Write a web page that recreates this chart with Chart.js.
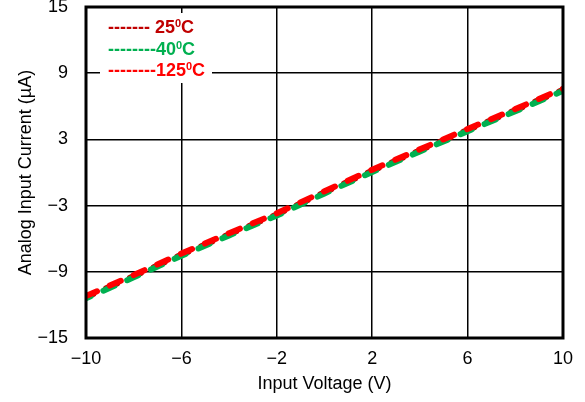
<!DOCTYPE html>
<html>
<head>
<meta charset="utf-8">
<script src="https://cdn.jsdelivr.net/npm/chart.js@4/dist/chart.umd.min.js"></script>
<style>
  html, body { margin: 0; padding: 0; background: #fff; }
  #wrap { width: 585px; height: 402px; position: relative; }
</style>
</head>
<body>
<div id="wrap"><canvas id="chart"></canvas></div>
<script>
// values
var voltages = [-10, -8, -6, -4, -2, 0, 2, 4, 6, 8, 10];
var current25 = [-11.3, -9.4, -7.45, -5.6, -3.8, -1.8, 0.15, 2.0, 3.85, 5.65, 7.5];
var currentMinus40 = [-11.4, -9.5, -7.55, -5.7, -3.9, -1.9, 0.05, 1.9, 3.75, 5.55, 7.4];
var current125 = [-11.2, -9.3, -7.35, -5.5, -3.7, -1.7, 0.25, 2.1, 3.95, 5.75, 7.6];
var xTicks = [-10, -6, -2, 2, 6, 10];
var yTicks = [-15, -9, -3, 3, 9, 15];
var legendNames = ['25', '40', '125'];
var legendDashes = ['------- ', '--------', '--------'];
var colors = ['#c00000', '#00b050', '#ff0000'];

var font = "'Liberation Sans', Arial, sans-serif";

function pts(ys){
    return voltages.map((v,i)=>({x:v, y:ys[i]}));
}
function minus(v){
    return v < 0 ? '\u2212' + Math.abs(v) : '' + v;
}

var frame = {
    id: 'frame',
    afterDraw(chart){
        var ctx = chart.ctx, a = chart.chartArea;
        ctx.save();
        // legend box
        ctx.fillStyle = '#fff';
        ctx.fillRect(100, 13, 112, 70);
        ctx.textBaseline = 'alphabetic';
        for (var i=0; i<legendNames.length; i++){
            var y = 33 + i*21.5;
            var x = 108;
            ctx.fillStyle = colors[i];
            ctx.font = 'bold 18px ' + font;
            ctx.fillText(legendDashes[i], x, y);
            x += ctx.measureText(legendDashes[i]).width;
            ctx.fillText(legendNames[i], x, y);
            x += ctx.measureText(legendNames[i]).width;
            ctx.font = 'bold 11px ' + font;
            ctx.fillText('0', x, y - 6);
            x += ctx.measureText('0').width;
            ctx.font = 'bold 18px ' + font;
            ctx.fillText('C', x, y);
        }
        // plot frame
        ctx.strokeStyle = '#000';
        ctx.lineWidth = 3;
        ctx.strokeRect(a.left, a.top, a.right - a.left, a.bottom - a.top);
        ctx.restore();
    }
};

function ds(label, ys, color, order, offset){
    return {
        label: label,
        data: pts(ys),
        borderColor: color,
        backgroundColor: color,
        borderWidth: 6,
        borderDash: [12, 14],
        borderDashOffset: offset,
        borderCapStyle: 'round',
        pointRadius: 0,
        tension: 0,
        order: order
    };
}

new Chart(document.getElementById('chart'), {
    type: 'line',
    data: {
        datasets: [
            ds('25\u00B0C', current25, colors[0], 3, 4),
            ds('-40\u00B0C', currentMinus40, colors[1], 2, 7),
            ds('125\u00B0C', current125, colors[2], 1, 0)
        ]
    },
    options: {
        responsive: true,
        maintainAspectRatio: false,
        animation: false,
        layout: { padding: { top: 0, right: 20, left: 0, bottom: 0 } },
        plugins: {
            legend: { display: false },
            tooltip: { enabled: false }
        },
        scales: {
            x: {
                type: 'linear',
                min: -10, max: 10,
                afterBuildTicks: s => { s.ticks = xTicks.map(v=>({value:v})); },
                afterFit: s => { s.height = 64; },
                grid: { color: '#000', lineWidth: 1.5, drawTicks: false },
                border: { display: false },
                ticks: {
                    color: '#000', padding: 12,
                    font: { family: font, size: 18, lineHeight: 1 },
                    callback: v => minus(v)
                },
                title: {
                    display: true, text: 'Input Voltage (V)', color: '#000',
                    font: { family: font, size: 18 }, padding: { top: 0, bottom: 7 }
                }
            },
            y: {
                type: 'linear',
                min: -15, max: 15,
                afterBuildTicks: s => { s.ticks = yTicks.map(v=>({value:v})); },
                afterFit: s => { s.width = 86; s.paddingTop = 7; s.paddingBottom = 0; },
                grid: { color: '#000', lineWidth: 1.5, drawTicks: false },
                border: { display: false },
                ticks: {
                    color: '#000', padding: 18,
                    font: { family: font, size: 18, lineHeight: 1 },
                    callback: v => minus(v)
                },
                title: {
                    display: true, text: 'Analog Input Current (\u00B5A)', color: '#000',
                    font: { family: font, size: 18 }, padding: { top: 15, bottom: 0 }
                }
            }
        }
    },
    plugins: [frame]
});
</script>
</body>
</html>
